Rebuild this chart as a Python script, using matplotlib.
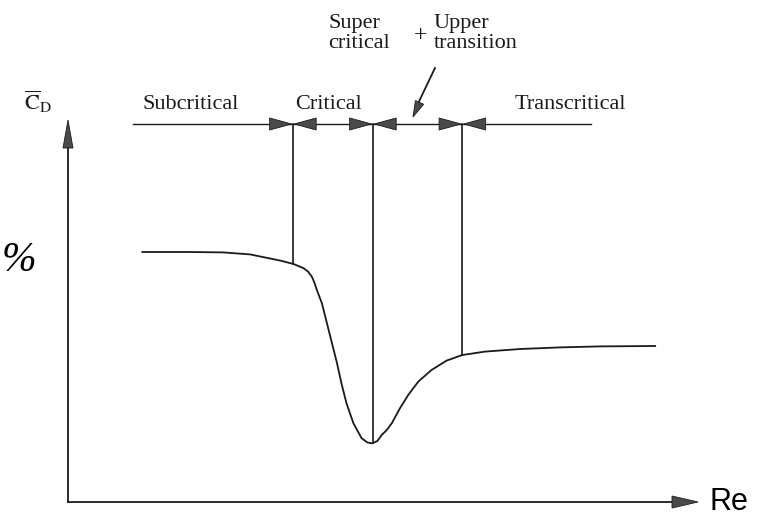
import numpy as np
import matplotlib.pyplot as plt

# Schematic drag curve of a circular cylinder, Cd vs Re (arbitrary Re units)
curve_re = [1.18, 1.94, 2.46, 2.89, 3.37, 3.58, 3.74, 3.81, 3.87, 3.91, 3.95,
            4.03, 4.11, 4.19, 4.27, 4.34, 4.42, 4.53, 4.66, 4.75, 4.83, 4.91,
            4.98, 5.06, 5.14, 5.27, 5.40, 5.56, 5.77, 6.01, 6.26, 6.62, 7.18,
            7.81, 8.44, 9.32]
curve_cd = [1.25, 1.25, 1.248, 1.238, 1.207, 1.19, 1.169, 1.152, 1.127, 1.098,
            1.06, 0.994, 0.894, 0.794, 0.694, 0.594, 0.494, 0.394, 0.319,
            0.298, 0.293, 0.305, 0.335, 0.36, 0.394, 0.469, 0.535, 0.602,
            0.66, 0.707, 0.735, 0.752, 0.765, 0.773, 0.778, 0.78]

# regime boundaries (Re) and labels
boundaries = [3.57, 4.84, 6.26]
regimes = ["Subcritical", "Critical", "Transcritical"]
regime_x = [1.94, 4.13, 7.98]

dim_start, dim_end, dim_cd = 1.03, 8.30, 1.89

ink = "#1a1a1a"
serif = "Liberation Serif"
SX, SY = 63.0, 200.0  # pixels per data unit on each axis

fig = plt.figure(figsize=(7.6, 5.23), dpi=100)
ax = fig.add_axes([0, 0, 1, 1])
ax.set_xlim(-68 / SX, 692 / SX)
ax.set_ylim(-21 / SY, 502 / SY)
ax.axis("off")


def head(x, y, ang, length, half, color="#4a4a4a"):
    # filled triangle with its tip at (x, y); ang in degrees on screen, sizes in px
    dx, dy = np.cos(np.radians(ang)), np.sin(np.radians(ang))
    bx, by = -dx * length, -dy * length
    px, py = -dy * half, dx * half
    xs = [x, x + (bx + px) / SX, x + (bx - px) / SX]
    ys = [y, y + (by + py) / SY, y + (by - py) / SY]
    ax.fill(xs, ys, color=color, lw=0.6, ec=ink, zorder=3)


# axes of the sketch
ax.plot([0, 0], [0, 1.80], color=ink, lw=1.3)
head(0, 1.91, 90, 28, 5)
ax.plot([0, 9.7], [0, 0], color=ink, lw=1.3)
head(10.0, 0, 0, 26, 6)

# drag curve
ax.plot(curve_re, curve_cd, color=ink, lw=1.3, solid_joinstyle="round")

# boundary lines
for b in boundaries:
    ax.plot([b, b], [dim_cd, np.interp(b, curve_re, curve_cd)], color=ink, lw=1.2)

# dimension line with arrowheads at each boundary
ax.plot([dim_start, dim_end], [dim_cd, dim_cd], color=ink, lw=1.0)
for b in boundaries:
    head(b - 0.02, dim_cd, 0, 22, 6)
    head(b + 0.02, dim_cd, 180, 22, 6)

for name, x in zip(regimes, regime_x):
    ax.text(x, 1.985, name, ha="center", va="center", fontsize=16,
            family=serif, color=ink)

ax.text(4.13, 2.44, "Super\ncritical", ha="left", va="top", fontsize=16,
        family=serif, color=ink, linespacing=1.1)
ax.text(5.80, 2.44, "Upper\ntransition", ha="left", va="top", fontsize=16,
        family=serif, color=ink, linespacing=1.1)
ax.text(5.59, 2.33, "+", ha="center", va="center", fontsize=17,
        family=serif, color=ink)

# pointer to the supercritical region
ang = np.degrees(np.arctan2(-49, -22))
ax.plot([5.825, 5.56], [2.17, 1.995], color=ink, lw=1.3)
head(5.476, 1.925, ang, 16, 4.5)

ax.text(-0.476, 2.0, r"$\overline{\mathrm{C}}_{\mathrm{D}}$", ha="center",
        va="center", fontsize=16, color=ink, math_fontfamily="stix")
ax.text(10.19, 0.0, "Re", ha="left", va="center", fontsize=22,
        family="Liberation Sans", color="black")
ax.text(-1.06, 1.205, "%", ha="left", va="center", fontsize=30,
        family=serif, style="italic", color="black")

fig.savefig("out.png", dpi=100)
